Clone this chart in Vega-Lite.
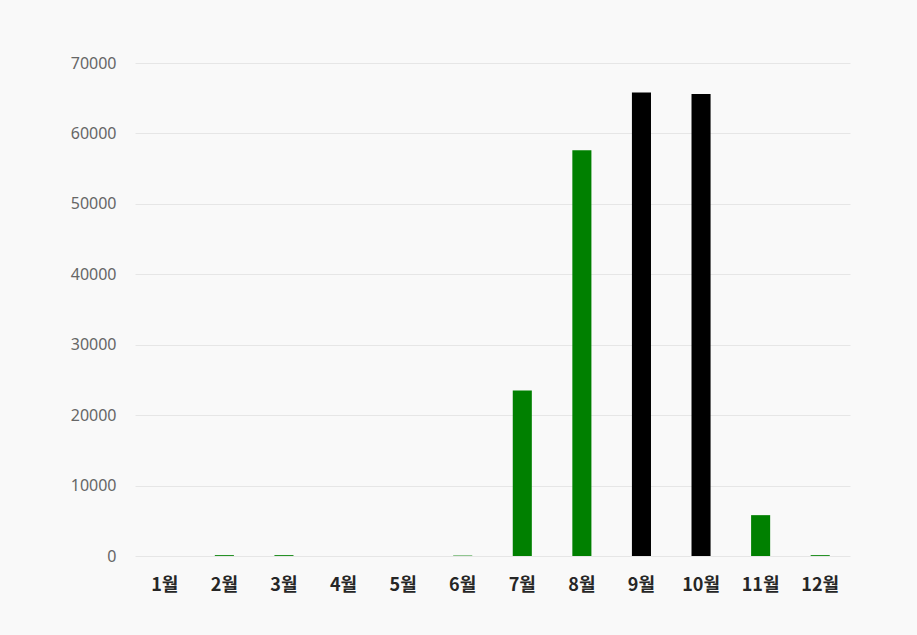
{
  "$schema": "https://vega.github.io/schema/vega-lite/v6.json",
  "autosize": {"type": "none"},
  "padding": {"left": 135, "top": 63, "right": 67, "bottom": 79},
  "width": 715,
  "height": 493,
  "background": "#f9f9f9",
  "config": {"view": {"stroke": null}},
  "data": {
    "values": [
      {"month": "1월", "value": 0, "group": "normal"},
      {"month": "2월", "value": 120, "group": "normal"},
      {"month": "3월", "value": 120, "group": "normal"},
      {"month": "4월", "value": 0, "group": "normal"},
      {"month": "5월", "value": 0, "group": "normal"},
      {"month": "6월", "value": 60, "group": "normal"},
      {"month": "7월", "value": 23500, "group": "normal"},
      {"month": "8월", "value": 57600, "group": "normal"},
      {"month": "9월", "value": 65800, "group": "peak"},
      {"month": "10월", "value": 65600, "group": "peak"},
      {"month": "11월", "value": 5800, "group": "normal"},
      {"month": "12월", "value": 120, "group": "normal"}
    ]
  },
  "mark": {"type": "bar"},
  "encoding": {
    "x": {
      "field": "month",
      "type": "nominal",
      "sort": null,
      "title": null,
      "scale": {"paddingInner": 0.68},
      "axis": {
        "domain": false,
        "ticks": false,
        "labelAngle": 0,
        "labelFont": "Noto Sans CJK KR",
        "labelFontSize": 18,
        "labelFontWeight": 600,
        "labelColor": "#262626",
        "labelPadding": 20
      }
    },
    "y": {
      "field": "value",
      "type": "quantitative",
      "title": null,
      "scale": {"domain": [0, 70000], "nice": false},
      "axis": {
        "values": [0, 10000, 20000, 30000, 40000, 50000, 60000, 70000],
        "format": "d",
        "domain": false,
        "ticks": false,
        "grid": true,
        "gridColor": "#e6e6e6",
        "gridWidth": 1,
        "labelFont": "Noto Sans",
        "labelFontSize": 16,
        "labelColor": "#666666",
        "labelPadding": 19
      }
    },
    "color": {
      "field": "group",
      "type": "nominal",
      "scale": {"domain": ["normal", "peak"], "range": ["#008000", "#000000"]},
      "legend": null
    }
  }
}
